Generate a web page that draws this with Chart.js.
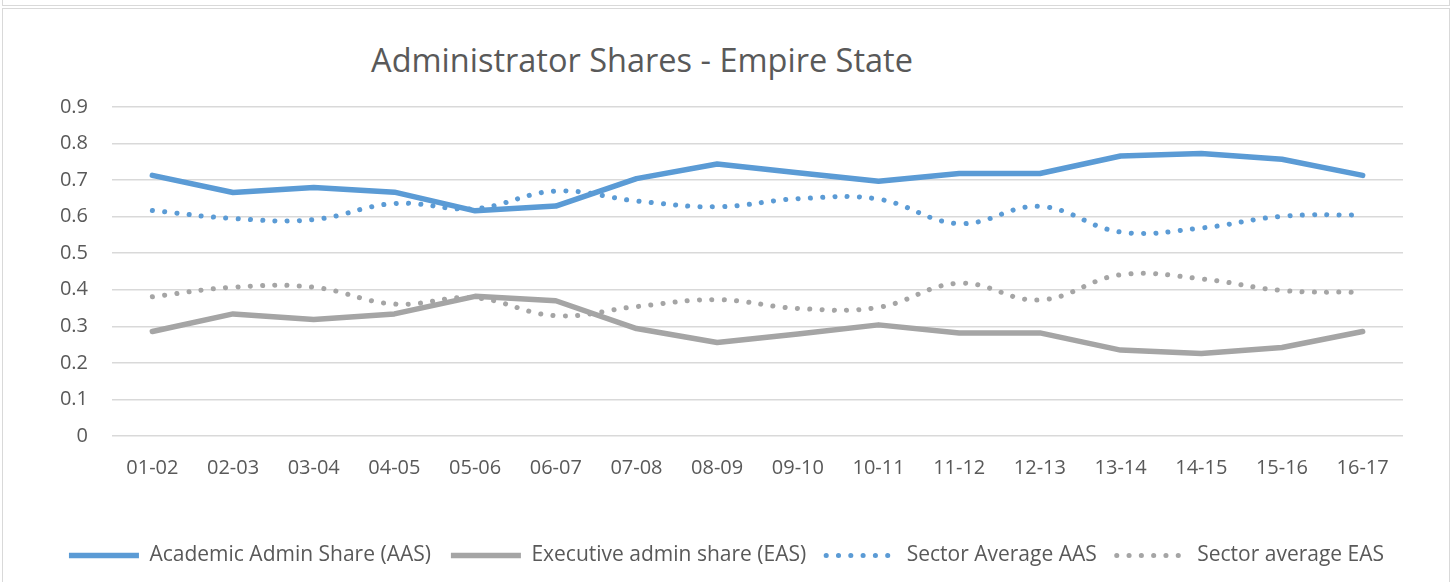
<!DOCTYPE html>
<html lang="en">
<head>
    <meta charset="UTF-8">
    <title>Administrator Shares - Empire State</title>
    <script src="https://cdn.jsdelivr.net/npm/chart.js@4.4.0/dist/chart.umd.min.js"></script>
    <style>
        html, body { margin: 0; padding: 0; background: #fff; }
        body { width: 1453px; height: 582px; position: relative; overflow: hidden; font-family: "Open Sans", sans-serif; }
        .topbox { position: absolute; left: 2px; top: -10px; width: 1446px; height: 14px; border: 1px solid #d9d9d9; }
        .box { position: absolute; left: 2px; top: 8px; width: 1446px; height: 600px; border: 1px solid #d9d9d9; }
        #title { position: absolute; left: 0; width: 1284px; top: 37px; text-align: center; font-size: 32.5px; color: #595959; }
        #wrap { position: absolute; left: 0; top: 0; width: 1453px; height: 582px; }
    </style>
</head>
<body>
    <div class="topbox"></div>
    <div class="box"></div>
    <div id="title">Administrator Shares - Empire State</div>
    <div id="wrap"><canvas id="chart"></canvas></div>

    <script>
        const years = ['01-02', '02-03', '03-04', '04-05', '05-06', '06-07', '07-08', '08-09',
                       '09-10', '10-11', '11-12', '12-13', '13-14', '14-15', '15-16', '16-17'];
        const academicShare = [0.713, 0.666, 0.680, 0.667, 0.616, 0.629, 0.704, 0.744,
                               0.720, 0.697, 0.718, 0.718, 0.766, 0.773, 0.757, 0.713];
        const executiveShare = [0.286, 0.334, 0.319, 0.334, 0.382, 0.370, 0.294, 0.256,
                                0.279, 0.304, 0.282, 0.282, 0.235, 0.226, 0.242, 0.286];
        const sectorAAS = [0.617, 0.595, 0.592, 0.636, 0.622, 0.670, 0.643, 0.627,
                           0.649, 0.648, 0.581, 0.628, 0.558, 0.569, 0.601, 0.605];
        const sectorEAS = [0.381, 0.407, 0.407, 0.361, 0.378, 0.329, 0.354, 0.373,
                           0.349, 0.352, 0.418, 0.372, 0.441, 0.430, 0.398, 0.393];
        const yTicks = [0, 0.1, 0.2, 0.3, 0.4, 0.5, 0.6, 0.7, 0.8, 0.9];

        const blue = '#5b9bd5';
        const grey = '#a5a5a5';
        const textColor = '#595959';
        const dots = [0.1, 12.2];

        Chart.defaults.font.family = '"Open Sans", sans-serif';
        Chart.defaults.color = textColor;

        new Chart(document.getElementById('chart'), {
            type: 'line',
            data: {
                labels: years,
                datasets: [
                    { label: 'Academic Admin Share (AAS)', data: academicShare, borderColor: blue, backgroundColor: blue,
                      borderWidth: 5.5, pointRadius: 0, tension: 0, order: 4, borderCapStyle: 'round', borderJoinStyle: 'round' },
                    { label: 'Executive admin share (EAS)', data: executiveShare, borderColor: grey, backgroundColor: grey,
                      borderWidth: 5.5, pointRadius: 0, tension: 0, order: 3, borderCapStyle: 'round', borderJoinStyle: 'round' },
                    { label: 'Sector Average AAS', data: sectorAAS, borderColor: blue, backgroundColor: blue,
                      borderWidth: 5, pointRadius: 0, tension: 0.4, borderDash: dots, borderCapStyle: 'round', order: 2 },
                    { label: 'Sector average EAS', data: sectorEAS, borderColor: grey, backgroundColor: grey,
                      borderWidth: 5, pointRadius: 0, tension: 0.4, borderDash: dots, borderCapStyle: 'round', order: 1 }
                ]
            },
            options: {
                responsive: true,
                maintainAspectRatio: false,
                animation: false,
                layout: { padding: { top: 107, right: 0, left: 0, bottom: 6 } },
                scales: {
                    x: {
                        offset: true,
                        grid: { display: false, drawTicks: false },
                        border: { display: false },
                        ticks: { padding: 20, font: { size: 20 }, color: textColor, maxRotation: 0 },
                        afterFit: (scale) => { scale.height = 89; }
                    },
                    y: {
                        min: 0,
                        max: 0.9,
                        afterBuildTicks: (scale) => { scale.ticks = yTicks.map(v => ({ value: v })); },
                        grid: { color: '#d9d9d9', lineWidth: 1.5, drawTicks: false },
                        border: { display: false },
                        ticks: { padding: 24, font: { size: 20 }, color: textColor },
                        afterFit: (scale) => { scale.width = 112; }
                    },
                    // empty right-hand spacer so the plot stops where the reference does
                    yRight: {
                        position: 'right',
                        min: 0,
                        max: 0.9,
                        grid: { display: false, drawTicks: false },
                        border: { display: false },
                        ticks: { display: false },
                        afterFit: (scale) => { scale.width = 50; }
                    }
                },
                plugins: {
                    title: { display: false },
                    tooltip: { enabled: false },
                    legend: {
                        position: 'bottom',
                        labels: {
                            usePointStyle: true,
                            pointStyle: 'line',
                            pointStyleWidth: 70,
                            padding: 20,
                            font: { size: 21 },
                            color: textColor,
                            sort: (a, b) => a.datasetIndex - b.datasetIndex,
                            generateLabels: (chart) => {
                                const items = Chart.defaults.plugins.legend.labels.generateLabels(chart);
                                items.forEach(item => {
                                    const ds = chart.data.datasets[item.datasetIndex];
                                    item.lineDash = ds.borderDash || [];
                                    item.lineCap = ds.borderDash ? 'round' : 'butt';
                                    item.lineWidth = ds.borderWidth;
                                });
                                return items;
                            }
                        }
                    }
                }
            }
        });
    </script>
</body>
</html>
